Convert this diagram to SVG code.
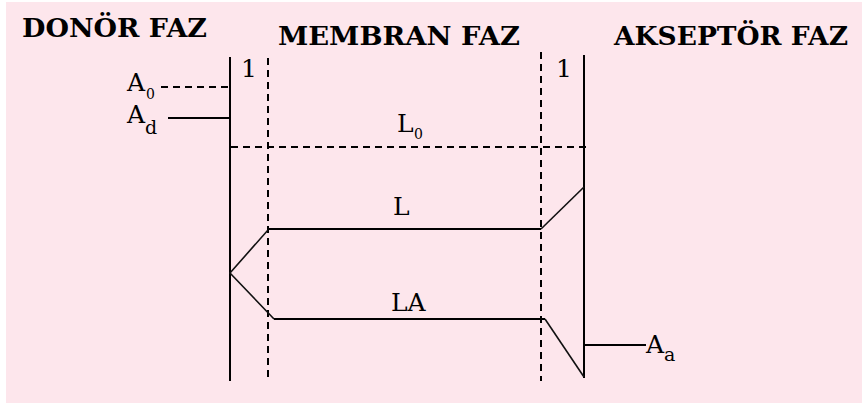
<svg xmlns="http://www.w3.org/2000/svg" width="865" height="403" viewBox="0 0 865 403">
<style>
text{font-family:"DejaVu Serif","Liberation Serif",serif;fill:#000}
.h{font-weight:bold;font-size:26px}
.n{font-size:25px}
.s{font-size:14px}
.sd{font-size:19px}
.solid{stroke:#000;stroke-width:2;fill:none}
.diag{stroke:#111;stroke-width:1.6;fill:none}
.vd{stroke:#000;stroke-width:2;stroke-dasharray:7 5;fill:none}
.hd{stroke:#000;stroke-width:2;stroke-dasharray:7 5;fill:none}
</style>
<rect x="0" y="0" width="865" height="403" fill="#ffffff"/>
<rect x="6" y="2" width="856" height="401" fill="#fde6ec"/>
<g id="titles">
<text class="h" x="22" y="37" textLength="185" lengthAdjust="spacingAndGlyphs">DONÖR FAZ</text>
<text class="h" x="278" y="45" textLength="242" lengthAdjust="spacingAndGlyphs">MEMBRAN FAZ</text>
<text class="h" x="614" y="45" textLength="234" lengthAdjust="spacingAndGlyphs">AKSEPTÖR FAZ</text>
</g>
<g id="connectors">
<line class="solid" x1="230" y1="57" x2="230" y2="381"/>
<line class="vd" x1="268" y1="58" x2="268" y2="381"/>
<line class="vd" x1="541" y1="52" x2="541" y2="381"/>
<line class="solid" x1="584" y1="55" x2="584" y2="378"/>
<line class="hd" x1="161" y1="87" x2="229" y2="87"/>
<line class="solid" x1="168" y1="118" x2="230" y2="118"/>
<line class="hd" x1="231" y1="147" x2="586" y2="147"/>
<polyline class="diag" points="584,187 541,229"/>
<line class="solid" x1="268" y1="229" x2="541" y2="229"/>
<polyline class="diag" points="268,230 230,273 274,319"/>
<line class="solid" x1="274" y1="319" x2="545" y2="319"/>
<polyline class="diag" points="545,319 584,377"/>
<line class="solid" x1="584" y1="345" x2="646" y2="345"/>
</g>
<g id="node-A0">
<text class="n" x="127" y="91">A</text>
<text class="s" x="146" y="99">0</text>
</g>
<g id="node-Ad">
<text class="n" x="127" y="123">A</text>
<text class="sd" x="145" y="134">d</text>
</g>
<g id="node-1-left"><text class="n" x="249" y="77" text-anchor="middle">1</text></g>
<g id="node-1-right"><text class="n" x="564" y="77" text-anchor="middle">1</text></g>
<g id="node-L0">
<text class="n" x="397" y="132">L</text>
<text class="s" x="414" y="139">0</text>
</g>
<g id="node-L"><text class="n" x="393" y="215">L</text></g>
<g id="node-LA"><text class="n" x="391" y="311">LA</text></g>
<g id="node-Aa">
<text class="n" x="646" y="353">A</text>
<text class="sd" x="664" y="361">a</text>
</g>
</svg>
